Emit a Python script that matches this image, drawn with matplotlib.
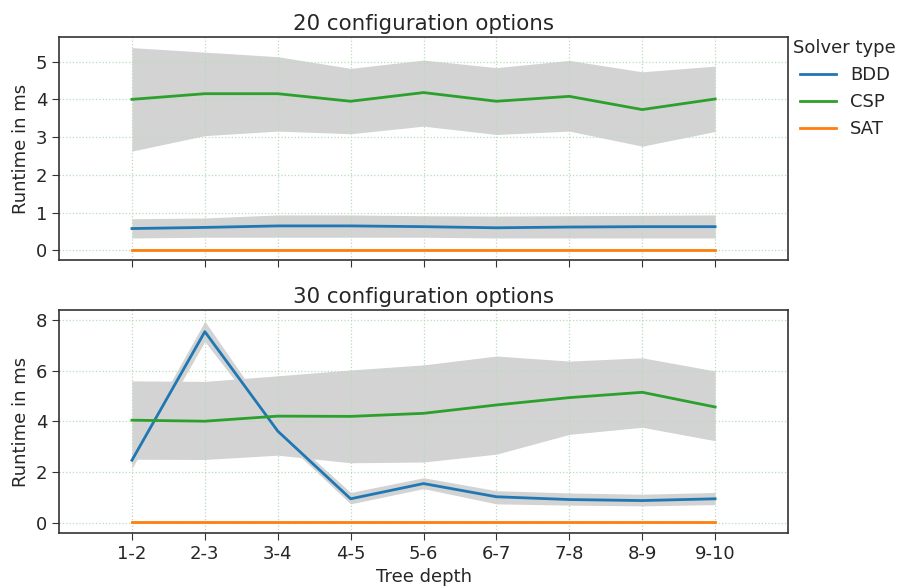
import numpy as np
import matplotlib.pyplot as plt

depths = ["1-2", "2-3", "3-4", "4-5", "5-6", "6-7", "7-8", "8-9", "9-10"]

# 20 configuration options
bdd20 = [0.58, 0.61, 0.65, 0.65, 0.63, 0.60, 0.62, 0.63, 0.63]
bdd20_lo = [0.33, 0.35, 0.35, 0.35, 0.35, 0.33, 0.33, 0.33, 0.33]
bdd20_hi = [0.84, 0.86, 0.94, 0.94, 0.92, 0.91, 0.92, 0.93, 0.94]
csp20 = [4.00, 4.15, 4.15, 3.95, 4.18, 3.95, 4.08, 3.73, 4.01]
csp20_lo = [2.63, 3.04, 3.16, 3.09, 3.29, 3.07, 3.16, 2.76, 3.15]
csp20_hi = [5.37, 5.25, 5.13, 4.82, 5.04, 4.84, 5.03, 4.73, 4.88]
sat20 = [0.02, 0.02, 0.02, 0.02, 0.02, 0.02, 0.02, 0.02, 0.02]
sat20_lo = [0.01, 0.01, 0.01, 0.01, 0.01, 0.01, 0.01, 0.01, 0.01]
sat20_hi = [0.03, 0.03, 0.03, 0.03, 0.03, 0.03, 0.03, 0.03, 0.03]

# 30 configuration options
bdd30 = [2.47, 7.54, 3.62, 0.95, 1.55, 1.03, 0.92, 0.88, 0.95]
bdd30_lo = [2.15, 7.15, 3.45, 0.75, 1.35, 0.75, 0.70, 0.67, 0.72]
bdd30_hi = [2.80, 7.95, 3.80, 1.20, 1.78, 1.27, 1.18, 1.13, 1.20]
csp30 = [4.05, 4.01, 4.21, 4.20, 4.32, 4.65, 4.94, 5.15, 4.57]
csp30_lo = [2.51, 2.50, 2.67, 2.37, 2.40, 2.71, 3.49, 3.77, 3.24]
csp30_hi = [5.60, 5.58, 5.80, 6.03, 6.23, 6.58, 6.38, 6.51, 5.99]
sat30 = [0.02, 0.02, 0.02, 0.02, 0.02, 0.02, 0.02, 0.02, 0.02]
sat30_lo = [0.01, 0.01, 0.01, 0.01, 0.01, 0.01, 0.01, 0.01, 0.01]
sat30_hi = [0.03, 0.03, 0.03, 0.03, 0.03, 0.03, 0.03, 0.03, 0.03]

colors = {"BDD": "#1f77b4", "CSP": "#2ca02c", "SAT": "#ff7f0e"}
x = np.arange(len(depths))

plt.rcParams["text.color"] = "#262626"
plt.rcParams["axes.labelcolor"] = "#262626"
plt.rcParams["xtick.color"] = "#262626"
plt.rcParams["ytick.color"] = "#262626"

fig = plt.figure(figsize=(9, 5.88), dpi=100)
ax1 = fig.add_axes([0.0656, 0.558, 0.81, 0.379])
ax2 = fig.add_axes([0.0656, 0.0935, 0.81, 0.3795])

panels = [
    (ax1, "20 configuration options",
     [("BDD", bdd20, bdd20_lo, bdd20_hi), ("CSP", csp20, csp20_lo, csp20_hi),
      ("SAT", sat20, sat20_lo, sat20_hi)], (-0.25, 5.65), [0, 1, 2, 3, 4, 5]),
    (ax2, "30 configuration options",
     [("BDD", bdd30, bdd30_lo, bdd30_hi), ("CSP", csp30, csp30_lo, csp30_hi),
      ("SAT", sat30, sat30_lo, sat30_hi)], (-0.4, 8.4), [0, 2, 4, 6, 8]),
]

for ax, title, series, ylim, yticks in panels:
    for name, mean, lo, hi in series:
        ax.fill_between(x, lo, hi, color="#d3d3d3", lw=0, zorder=1)
    for name, mean, lo, hi in series:
        ax.plot(x, mean, color=colors[name], lw=2, label=name, zorder=3)
    ax.set_title(title, fontsize=15.4, pad=5)
    ax.set_xlim(-1, 9)
    ax.set_ylim(*ylim)
    ax.set_yticks(yticks)
    ax.set_xticks(x)
    ax.set_ylabel("Runtime in ms", fontsize=13, labelpad=4)
    ax.grid(True, linestyle=":", color="#b8dcb8", lw=0.9, zorder=0)
    ax.tick_params(labelsize=13, length=5, color="#333333")
    for s in ax.spines.values():
        s.set_color("#333333")
        s.set_linewidth(1.2)

ax1.set_xticklabels([])
ax2.set_xticklabels(depths)
ax2.set_xlabel("Tree depth", fontsize=13, labelpad=4)

ax1.legend(title="Solver type", loc="upper left", bbox_to_anchor=(1.0, 1.015),
           frameon=False, fontsize=13, title_fontsize=13, handlelength=2.0,
           borderaxespad=0.0, borderpad=0.3, labelspacing=0.5)

fig.savefig("out.png", dpi=100)
